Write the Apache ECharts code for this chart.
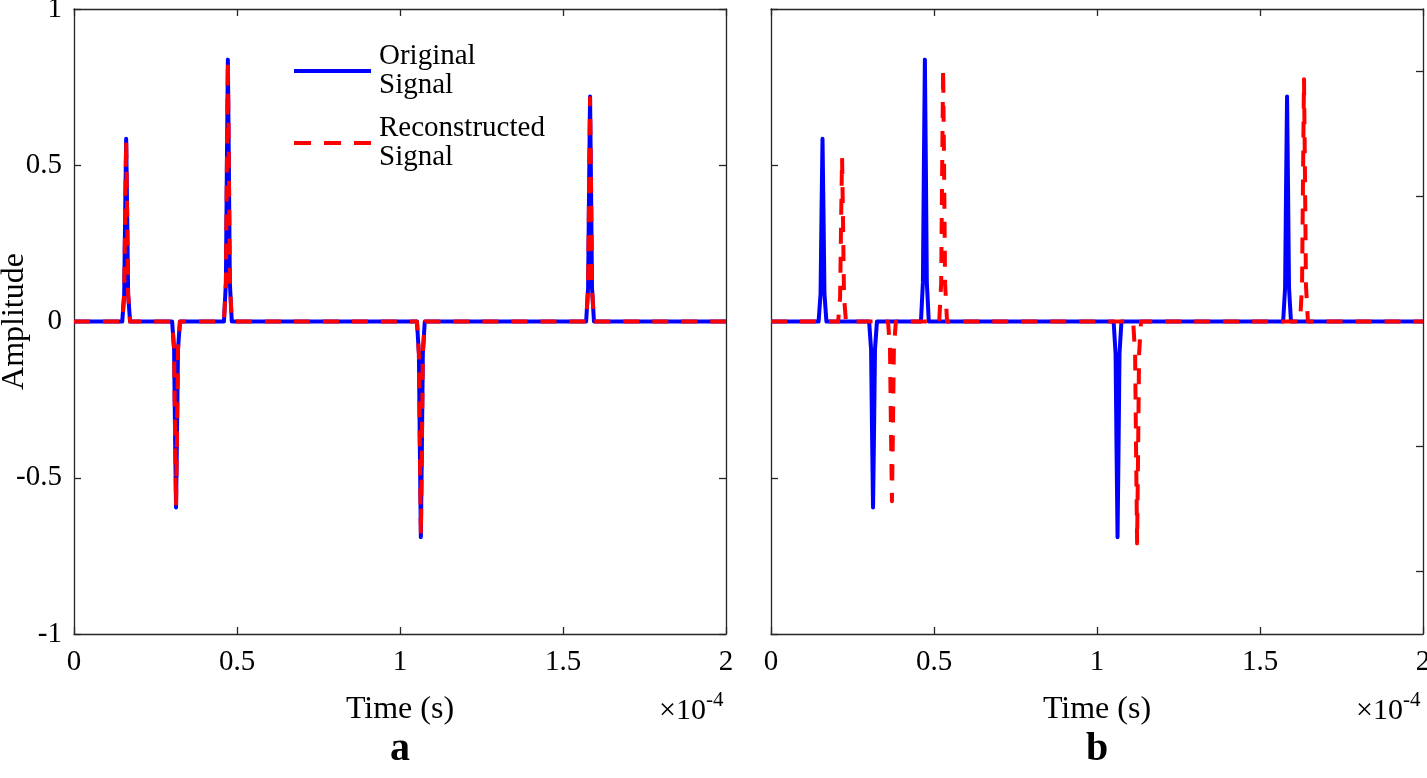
<!DOCTYPE html>
<html>
<head>
<meta charset="utf-8">
<script src="https://cdn.jsdelivr.net/npm/echarts@6/dist/echarts.min.js"></script>
<style>
html,body{margin:0;padding:0;background:#fff;}
#chart{width:1427px;height:778px;}
</style>
</head>
<body>
<div id="chart"></div>
<script>
// Time axis values are in units of 1e-4 s
const xTicks = [0, 0.5, 1, 1.5, 2];
const yTicks = [-1, -0.5, 0, 0.5, 1];
const rightTicksB = [-0.8, -0.4, 0, 0.4, 0.8];

// Panel a: original signal [time, amplitude]
const originalA = [
  [0,0],
  [0.148,0],[0.154,0.088],[0.157,0.351],[0.160,0.585],[0.163,0.351],[0.166,0.088],[0.172,0],
  [0.301,0],[0.307,-0.089],[0.310,-0.357],[0.313,-0.595],[0.316,-0.357],[0.319,-0.089],[0.325,0],
  [0.460,0],[0.466,0.126],[0.469,0.503],[0.472,0.838],[0.475,0.503],[0.478,0.126],[0.484,0],
  [1.052,0],[1.058,-0.104],[1.061,-0.414],[1.064,-0.690],[1.067,-0.414],[1.070,-0.104],[1.076,0],
  [1.571,0],[1.577,0.108],[1.580,0.432],[1.583,0.720],[1.586,0.432],[1.589,0.108],[1.595,0],
  [2,0]
];
// Panel a: reconstructed signal
const reconstructedA = [
  [0,0],
  [0.148,0],[0.154,0.087],[0.157,0.348],[0.160,0.580],[0.163,0.348],[0.166,0.087],[0.172,0],
  [0.301,0],[0.307,-0.089],[0.310,-0.354],[0.313,-0.590],[0.316,-0.354],[0.319,-0.089],[0.325,0],
  [0.460,0],[0.466,0.125],[0.469,0.501],[0.472,0.835],[0.475,0.501],[0.478,0.125],[0.484,0],
  [1.052,0],[1.058,-0.103],[1.061,-0.411],[1.064,-0.685],[1.067,-0.411],[1.070,-0.103],[1.076,0],
  [1.571,0],[1.577,0.107],[1.580,0.429],[1.583,0.715],[1.586,0.429],[1.589,0.107],[1.595,0],
  [2,0]
];
// Panel b: original signal
const originalB = [
  [0,0],
  [0.146,0],[0.152,0.088],[0.155,0.351],[0.158,0.585],[0.161,0.351],[0.164,0.088],[0.170,0],
  [0.301,0],[0.307,-0.089],[0.310,-0.357],[0.313,-0.595],[0.316,-0.357],[0.319,-0.089],[0.325,0],
  [0.460,0],[0.466,0.126],[0.469,0.503],[0.472,0.838],[0.475,0.503],[0.478,0.126],[0.484,0],
  [1.051,0],[1.057,-0.104],[1.060,-0.414],[1.063,-0.690],[1.066,-0.414],[1.069,-0.104],[1.075,0],
  [1.571,0],[1.577,0.108],[1.580,0.432],[1.583,0.720],[1.586,0.432],[1.589,0.108],[1.595,0],
  [2,0]
];
// Panel b: reconstructed signal (shifted)
const reconstructedB = [
  [0,0],
  [0.206,0],[0.212,0.079],[0.215,0.315],[0.218,0.525],[0.221,0.315],[0.224,0.079],[0.230,0],
  [0.359,0],[0.365,-0.086],[0.368,-0.345],[0.371,-0.575],[0.374,-0.345],[0.377,-0.086],[0.383,0],
  [0.516,0],[0.522,0.122],[0.525,0.486],[0.528,0.810],[0.531,0.486],[0.534,0.122],[0.540,0],
  [1.111,0],[1.117,-0.107],[1.120,-0.426],[1.123,-0.710],[1.126,-0.426],[1.129,-0.107],[1.135,0],
  [1.623,0],[1.629,0.116],[1.632,0.465],[1.635,0.775],[1.638,0.465],[1.641,0.116],[1.647,0],
  [2,0]
];

const seriesNames = ['Original Signal', 'Reconstructed Signal'];
const panelLabels = ['a', 'b'];

const FONT = 'Liberation Serif';
const AX = '#262626';
const TXT = '#000';

const chart = echarts.init(document.getElementById('chart'), null, {renderer: 'canvas'});

function xAx(grid, pos, showLabel, name) {
  return {
    type: 'value', gridIndex: grid, position: pos,
    min: xTicks[0], max: xTicks[xTicks.length - 1], interval: 0.5,
    axisLine: {show: true, onZero: false, lineStyle: {color: AX, width: 1.3}},
    axisTick: {show: true, inside: true, length: 7, lineStyle: {color: AX, width: 1.3}},
    axisLabel: {show: showLabel, margin: 14, fontFamily: FONT, fontSize: 29, color: TXT},
    splitLine: {show: false},
    name: name || '', nameLocation: 'middle', nameGap: 60, nameMoveOverlap: false,
    nameTextStyle: {fontFamily: FONT, fontSize: 32, color: TXT}
  };
}
function yAx(grid, pos, showLabel, name, customTicks) {
  const ax = {
    type: 'value', gridIndex: grid, position: pos,
    min: yTicks[0], max: yTicks[yTicks.length - 1], interval: 0.5,
    axisLine: {show: true, onZero: false, lineStyle: {color: AX, width: 1.3}},
    axisTick: {show: true, inside: true, length: 7, lineStyle: {color: AX, width: 1.3}},
    axisLabel: {show: showLabel, margin: 12, fontFamily: FONT, fontSize: 29, color: TXT},
    splitLine: {show: false},
    name: name || '', nameLocation: 'middle', nameGap: 43, nameRotate: 90, nameMoveOverlap: false,
    nameTextStyle: {fontFamily: FONT, fontSize: 32, color: TXT}
  };
  if (customTicks) ax.axisTick.customValues = customTicks;
  return ax;
}

function lineSeries(name, data, xi, yi, color, dashed) {
  return {
    name: name, type: 'line', data: data, xAxisIndex: xi, yAxisIndex: yi,
    symbol: 'none', showSymbol: false, smooth: false, animation: false,
    lineStyle: {color: color, width: 4, type: dashed ? [16, 13] : 'solid', cap: 'butt', join: 'round'},
    itemStyle: {color: color},
    z: dashed ? 3 : 2
  };
}

const option = {
  backgroundColor: '#fff',
  animation: false,
  grid: [
    {left: 74, top: 9, width: 652, height: 625, containLabel: false, outerBoundsMode: 'none'},
    {left: 771, top: 9, width: 652, height: 625, containLabel: false, outerBoundsMode: 'none'}
  ],
  xAxis: [
    xAx(0, 'bottom', true, 'Time (s)'),
    xAx(0, 'top', false),
    xAx(1, 'bottom', true, 'Time (s)'),
    xAx(1, 'top', false)
  ],
  yAxis: [
    yAx(0, 'left', true, 'Amplitude'),
    yAx(0, 'right', false),
    yAx(1, 'left', false),
    yAx(1, 'right', false, '', rightTicksB)
  ],
  legend: {
    data: [
      {name: seriesNames[0], lineStyle: {width: 4, type: 'solid'}},
      {name: seriesNames[1], lineStyle: {width: 4, type: [17, 13]}}
    ],
    orient: 'vertical',
    left: 292, top: 42, padding: 0,
    itemWidth: 77, itemHeight: 14, itemGap: 14,
    itemStyle: {opacity: 0},
    lineStyle: {width: 4},
    formatter: function (n) { return n.replace(' ', '\n'); },
    textStyle: {fontFamily: FONT, fontSize: 29, color: TXT, lineHeight: 29, padding: [0, 0, 0, 3]},
    selectedMode: false
  },
  series: [
    lineSeries(seriesNames[0], originalA, 0, 0, '#0000FF', false),
    lineSeries(seriesNames[1], reconstructedA, 0, 0, '#FF0000', true),
    lineSeries(seriesNames[0], originalB, 2, 3, '#0000FF', false),
    lineSeries(seriesNames[1], reconstructedB, 2, 3, '#FF0000', true)
  ],
  graphic: [
    {type: 'text', x: 706, y: 711, style: {text: '×10', font: '30px ' + FONT, fill: TXT, align: 'right', verticalAlign: 'middle'}},
    {type: 'text', x: 706, y: 700, style: {text: '-4', font: '21px ' + FONT, fill: TXT, align: 'left', verticalAlign: 'middle'}},
    {type: 'text', x: 1403, y: 711, style: {text: '×10', font: '30px ' + FONT, fill: TXT, align: 'right', verticalAlign: 'middle'}},
    {type: 'text', x: 1403, y: 700, style: {text: '-4', font: '21px ' + FONT, fill: TXT, align: 'left', verticalAlign: 'middle'}},
    {type: 'text', x: 400, y: 750, style: {text: panelLabels[0], font: 'bold 40px ' + FONT, fill: TXT, align: 'center', verticalAlign: 'middle'}},
    {type: 'text', x: 1097, y: 750, style: {text: panelLabels[1], font: 'bold 40px ' + FONT, fill: TXT, align: 'center', verticalAlign: 'middle'}}
  ]
};
chart.setOption(option);
</script>
</body>
</html>
